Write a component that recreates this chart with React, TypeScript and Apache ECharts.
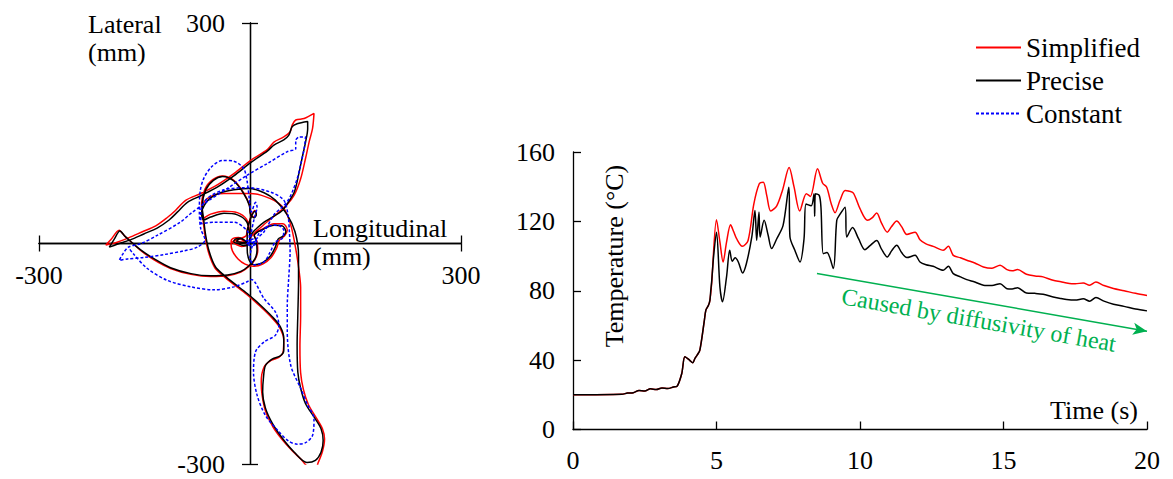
import { useEffect, useRef } from 'react';
import * as echarts from 'echarts';

const FONT = '"Liberation Serif", "Times New Roman", serif';

const seriesNames = ['Simplified', 'Precise', 'Constant'];
const seriesColors = ['#ff0000', '#000000', '#0000ff'];

// Trajectory (Longitudinal mm, Lateral mm)
const precisePath = [
  [0, 0], [-6, 3], [-14, 7], [-21, 6], [-23, 2], [-17, 0], [-9, -3], [-3, -1], [-13, 7], [-19, 3], [-1, 1],
  [0, 7], [3, 14], [10, 21], [20, 29], [32, 36], [46, 45], [55, 57], [63, 70], [69, 93], [74, 116], [79, 138], [82, 156], [82, 166],
  [67, 163], [60, 159], [55, 147], [48, 141], [34, 134], [25, 126], [1, 110], [-23, 92], [-46, 77], [-70, 65], [-89, 56], [-103, 43], [-115, 32], [-132, 21], [-151, 13], [-170, 5], [-189, -1], [-200, -5],
  [-193, 6], [-185, 17], [-178, 10], [-170, 3], [-155, -9], [-136, -21], [-113, -33], [-84, -41], [-56, -44], [-32, -43], [-13, -38], [-1, -30], [7, -21], [10, -9], [9, 3], [6, 11],
  [20, 20], [34, 25], [46, 24], [51, 16], [47, 10], [40, 6], [36, -5], [29, -17], [18, -26], [6, -29], [-1, -23], [-4, -7], [-4, 16], [-1, 29], [3, 39], [7, 44], [9, 39], [6, 35], [1, 39],
  [-1, 52], [-9, 68], [-23, 85], [-39, 91], [-52, 86], [-63, 73], [-68, 50], [-66, 34],
  [-63, 11], [-58, -11], [-49, -32], [-37, -43], [-23, -54], [-4, -68], [15, -84], [32, -100], [43, -113], [48, -129], [48, -146], [43, -153], [32, -157], [22, -166], [19, -184], [18, -202], [22, -224], [32, -245], [46, -265], [63, -284], [81, -298], [93, -295], [101, -284], [104, -268], [101, -252], [91, -236], [79, -218], [72, -197], [68, -175], [67, -138], [68, -97], [69, -52], [69, -16], [64, 16], [53, 39], [36, 59], [20, 69], [-1, 75], [-23, 73], [-42, 69], [-56, 62], [-65, 52], [-69, 41], [-66, 32],
  [-56, 36], [-37, 41], [-18, 39], [-5, 30], [-1, 16], [0, 0],
];

const simplifiedPath = [
  [0, 0], [-8, 4], [-16, 8], [-24, 7], [-27, 3], [-20, -1], [-12, -4], [-4, -2], [-15, 6], [-22, 4], [-2, 1],
  [0, 7], [6, 14], [13, 20], [25, 30], [39, 41], [52, 52], [63, 66], [72, 88], [79, 116], [84, 138], [89, 157], [91, 177],
  [77, 170], [65, 168], [60, 161], [57, 152], [48, 145], [34, 138], [25, 128], [1, 113], [-23, 95], [-46, 80], [-70, 68], [-91, 59], [-106, 45], [-118, 35], [-134, 24], [-153, 16], [-172, 8], [-191, 1], [-205, -2],
  [-198, 5], [-186, 18], [-179, 11], [-171, 4], [-156, -9], [-137, -22], [-113, -34], [-84, -42], [-56, -45], [-32, -44], [-13, -39], [-1, -31], [7, -22], [11, -10], [10, 3], [6, 11],
  [20, 21], [34, 27], [47, 27], [53, 18], [49, 10], [42, 5], [38, -6], [30, -19], [18, -28], [5, -31], [-7, -28], [-17, -21], [-25, -10], [-27, 0], [-20, 5], [-6, 10], [-4, 18], [-1, 30], [3, 40], [7, 45], [9, 40], [6, 36], [1, 40],
  [-1, 53], [-9, 69], [-23, 86], [-39, 92], [-53, 87], [-64, 74], [-69, 50], [-67, 34],
  [-64, 11], [-59, -12], [-50, -33], [-38, -44], [-24, -55], [-5, -69], [14, -85], [31, -101], [42, -114], [48, -131], [47, -148], [41, -155], [30, -159], [20, -168], [16, -188], [17, -205], [22, -228], [33, -250], [46, -267], [60, -282], [72, -293], [84, -304], [94, -304], [97, -298], [103, -283], [106, -266], [103, -252], [94, -237], [83, -219], [76, -199], [72, -176], [71, -140], [72, -98], [72, -60], [70, -39], [65, -7], [58, 25], [48, 48], [29, 61], [1, 68], [-37, 68], [-61, 61], [-68, 48], [-67, 34],
  [-56, 40], [-37, 44], [-18, 42], [-5, 33], [-1, 18], [0, 3],
];

const constantPath = [
  [0, 0], [-6, 3], [5, 6], [10, 1], [2, -3], [-5, -1], [7, 3],
  [13, 14], [25, 23], [39, 25], [48, 18], [46, 7], [36, 2], [29, -11], [20, -25], [6, -29], [0, -20], [2, -7], [8, 5], [20, 16],
  [34, 39], [44, 48], [53, 57], [60, 70], [67, 88], [72, 107], [77, 129], [79, 145],
  [70, 145], [65, 140], [65, 129], [53, 125], [25, 109], [-4, 93], [-32, 75], [-61, 57], [-84, 41], [-99, 29], [-132, 11], [-155, 0], [-173, -5], [-182, -16], [-186, -23],
  [-174, -21], [-151, -19], [-122, -15], [-94, -10], [-75, -5], [-64, 5], [-70, 20],
  [-72, 43], [-71, 70], [-66, 88], [-55, 104], [-39, 113], [-23, 112], [-9, 102], [-4, 84], [-1, 61], [2, 43], [8, 56], [10, 50], [6, 34], [2, 16], [0, 0],
  [-3, 16], [-23, 29], [-51, 29], [-69, 27], [-70, 43], [-61, 61], [-37, 73], [-4, 76], [29, 70], [48, 59], [54, 39], [56, 16], [57, -11], [55, -48], [53, -84], [53, -120], [58, -166], [72, -197], [82, -220], [91, -238], [89, -261], [79, -271], [67, -273], [55, -269], [41, -256], [22, -234], [10, -206], [5, -175], [8, -147], [20, -134], [36, -125], [41, -111], [36, -93], [20, -75], [2, -49], [-4, -52], [-23, -59], [-51, -63], [-84, -59], [-118, -50], [-146, -34], [-165, -15], [-173, -5],
];

// Temperature (time s, °C)
const simplifiedTemp = [
  [0, 20], [1.7, 20.3], [1.9, 21], [2.1, 21.2], [2.3, 22.5], [2.5, 22.2], [2.7, 23.5], [2.9, 23], [3.1, 24], [3.3, 23.6], [3.5, 24.5], [3.63, 25], [3.79, 32.3], [3.9, 41.9], [4.06, 40], [4.17, 38.5], [4.25, 41], [4.33, 43], [4.42, 45.8], [4.57, 62], [4.63, 68.8], [4.72, 71.6], [4.77, 74.5],
  [4.83, 84], [5.0, 121], [5.12, 108], [5.23, 96.6], [5.35, 108], [5.49, 118], [5.6, 114], [5.7, 110], [5.9, 105.6], [6.1, 109],
  [6.3, 130], [6.49, 141.7], [6.63, 142.6], [6.75, 135], [6.89, 126], [7.1, 129], [7.3, 138], [7.53, 151], [7.7, 140], [7.9, 126],
  [8.13, 136], [8.27, 134.4], [8.52, 150.3], [8.7, 142], [8.84, 139.7], [9.0, 130], [9.13, 125], [9.3, 132], [9.48, 137.8], [9.6, 137.5],
  [9.77, 136.3], [10.0, 127.3], [10.26, 120.6], [10.42, 122], [10.58, 124.8], [10.75, 119], [10.95, 113.8], [11.1, 117], [11.28, 120.2], [11.45, 117],
  [11.63, 112.5], [11.92, 113.8], [12.09, 109.4], [12.3, 107], [12.55, 105.6], [12.9, 103.3], [13.08, 105.6], [13.25, 100.4], [13.5, 99], [13.72, 97.6],
  [14.0, 96], [14.3, 93.7], [14.6, 93], [14.88, 94.7], [15.12, 92.2], [15.3, 91.5], [15.49, 92.2], [15.8, 89.5], [16.1, 88.5], [16.38, 88],
  [16.73, 86], [17.0, 85.2], [17.2, 84.5], [17.5, 84], [17.78, 84.5], [18.0, 83.2], [18.22, 85], [18.5, 83], [18.83, 81.3], [19.2, 80], [19.6, 78.5], [20, 77.2],
];

const preciseTemp = [
  [0, 20], [1.7, 20.3], [1.9, 21], [2.1, 21.2], [2.3, 22.5], [2.5, 22.2], [2.7, 23.5], [2.9, 23], [3.1, 24], [3.3, 23.6], [3.5, 24.5], [3.63, 25], [3.79, 32.3], [3.9, 41.9], [4.06, 40], [4.17, 38.5], [4.25, 41], [4.33, 43], [4.42, 45.8], [4.57, 62], [4.63, 68.8], [4.72, 71.6], [4.77, 74.5],
  [4.8, 80], [4.83, 85], [4.9, 100], [5.0, 113.8], [5.12, 82], [5.21, 73.6], [5.35, 88], [5.46, 103.3], [5.55, 97], [5.65, 99], [5.76, 96.6], [5.91, 90.3], [6.04, 95.6], [6.23, 111], [6.34, 126.3], [6.4, 109], [6.48, 125.4], [6.52, 111], [6.66, 120.6], [6.8, 112], [6.92, 104.3], [7.1, 110], [7.32, 117.7], [7.52, 139.7], [7.56, 111], [7.73, 103.3], [7.91, 96.6], [8.05, 110], [8.12, 130], [8.3, 129], [8.4, 136], [8.42, 123], [8.45, 136], [8.58, 135], [8.64, 128], [8.72, 101.4], [8.85, 102], [9.07, 92.8], [9.19, 120.6], [9.3, 124], [9.48, 128.2], [9.54, 111], [9.74, 116.4], [9.95, 110], [10.17, 103.7], [10.35, 106], [10.58, 109], [10.75, 104], [10.95, 99.5], [11.1, 103], [11.28, 106.2], [11.45, 102], [11.63, 99.1], [11.92, 100.4], [12.09, 96.6], [12.3, 95], [12.55, 94.1], [12.9, 91.8], [13.08, 94.1], [13.25, 89.9], [13.5, 88], [13.72, 86.4], [14.0, 85], [14.3, 83.2], [14.6, 83], [14.88, 84.1], [15.12, 81.2], [15.3, 81], [15.49, 81.8], [15.8, 78.7], [16.1, 78.5], [16.38, 78], [16.73, 76.4], [17.0, 75.5], [17.2, 74.9], [17.5, 74.6], [17.78, 75.4], [18.0, 74], [18.22, 76.1], [18.5, 74], [18.83, 72.2], [19.2, 71], [19.6, 69.5], [20, 68.4],
];

const arrowStart = [8.5, 90];
const arrowEnd = [20, 56.7];
const arrowText = 'Caused by diffusivity of heat';

const trajTicks = { min: -300, max: 300, interval: 300 };
const timeTicks = { min: 0, max: 20, interval: 5 };
const tempTicks = { min: 0, max: 160, interval: 40 };

const axisLineStyle = { color: '#000', width: 1.3 };

const TRAJ_GRID = { left: 39, top: 23, width: 422, height: 441 };

function trajAxis(position: string, inside: boolean, showLabel: boolean, margin: number) {
  const isX = position === 'bottom';
  return {
    gridIndex: 0,
    type: 'value',
    ...trajTicks,
    position,
    offset: isX ? -TRAJ_GRID.height / 2 : -TRAJ_GRID.width / 2,
    axisLine: { show: true, onZero: false, lineStyle: axisLineStyle },
    axisTick: { show: true, inside, length: 8, lineStyle: axisLineStyle },
    axisLabel: {
      show: showLabel,
      margin,
      fontSize: 26,
      fontFamily: FONT,
      color: '#000',
      formatter: (v: number) => (v === 0 ? '' : String(v)),
    },
    splitLine: { show: false },
  };
}

export default function App() {
  const ref = useRef<HTMLDivElement>(null);
  useEffect(() => {
    const chart = echarts.init(ref.current!, null, { renderer: 'svg' });
    const trajData = [simplifiedPath, precisePath, constantPath];
    const tempData = [simplifiedTemp, preciseTemp];
    const option: any = {
      animation: false,
      textStyle: { fontFamily: FONT },
      grid: [
        { ...TRAJ_GRID, outerBoundsMode: 'none', containLabel: false },
        { left: 573, top: 152, width: 574, height: 277.5, outerBoundsMode: 'none', containLabel: false },
      ],
      xAxis: [
        trajAxis('bottom', false, true, 19),
        trajAxis('bottom', true, false, 19),
        {
          gridIndex: 1, type: 'value', ...timeTicks, position: 'bottom',
          axisLine: { onZero: false, lineStyle: axisLineStyle },
          axisTick: { inside: true, length: 8, lineStyle: axisLineStyle },
          axisLabel: { margin: 18, fontSize: 26, fontFamily: FONT, color: '#000' },
          splitLine: { show: false },
        },
      ],
      yAxis: [
        trajAxis('left', false, true, 25),
        trajAxis('left', true, false, 25),
        {
          gridIndex: 1, type: 'value', ...tempTicks, position: 'left',
          axisLine: { show: true, onZero: false, lineStyle: axisLineStyle },
          axisTick: { show: true, inside: true, length: 8, lineStyle: axisLineStyle },
          axisLabel: { margin: 18, fontSize: 26, fontFamily: FONT, color: '#000' },
          splitLine: { show: false },
        },
      ],
      legend: {
        data: seriesNames,
        orient: 'vertical',
        left: 975,
        top: 34,
        padding: 0,
        itemWidth: 45,
        itemHeight: 20,
        itemGap: 6,
        itemStyle: { opacity: 0 },
        textStyle: { fontSize: 27, fontFamily: FONT, color: '#000' },
      },
      graphic: [
        { type: 'text', x: 88, y: 10, style: { text: 'Lateral\n(mm)', fontSize: 26, fontFamily: FONT, fill: '#000', lineHeight: 28 } },
        { type: 'text', x: 313, y: 214, style: { text: 'Longitudinal\n(mm)', fontSize: 26, fontFamily: FONT, fill: '#000', lineHeight: 28 } },
        { type: 'text', x: 614, y: 256, rotation: Math.PI / 2, style: { text: 'Temperature (°C)', fontSize: 26, fontFamily: FONT, fill: '#000', align: 'center', verticalAlign: 'middle' } },
        { type: 'text', x: 1138, y: 410, style: { text: 'Time (s)', fontSize: 26, fontFamily: FONT, fill: '#000', align: 'right', verticalAlign: 'middle' } },
      ],
      series: [
        ...trajData.map((d, i) => ({
          name: seriesNames[i],
          type: 'line',
          xAxisIndex: 0,
          yAxisIndex: 0,
          data: d,
          symbol: 'none',
          smooth: 0.3,
          clip: true,
          lineStyle: { color: seriesColors[i], width: 1.5, type: i === 2 ? [3, 2] : 'solid' },
          itemStyle: { color: seriesColors[i] },
          z: 2 + i,
        })),
        ...tempData.map((d, i) => ({
          name: seriesNames[i],
          type: 'line',
          xAxisIndex: 2,
          yAxisIndex: 2,
          data: d,
          symbol: 'none',
          smooth: 0.3,
          lineStyle: { color: seriesColors[i], width: 1.5 },
          itemStyle: { color: seriesColors[i] },
          z: 2 + i,
          markLine: i === 1 ? {
            silent: true,
            symbol: ['none', 'arrow'],
            symbolSize: [9, 14],
            lineStyle: { color: '#00b050', width: 1.5, type: 'solid' },
            label: {
              show: true,
              position: 'insideMiddleBottom',
              formatter: arrowText,
              color: '#00b050',
              fontSize: 24,
              fontFamily: FONT,
              distance: 6,
            },
            data: [[{ coord: arrowStart }, { coord: arrowEnd }]],
          } : undefined,
        })),
      ],
    };
    chart.setOption(option);
    return () => chart.dispose();
  }, []);
  return <div ref={ref} style={{ position: 'absolute', left: 0, top: 0, width: 1173, height: 479 }} />;
}
